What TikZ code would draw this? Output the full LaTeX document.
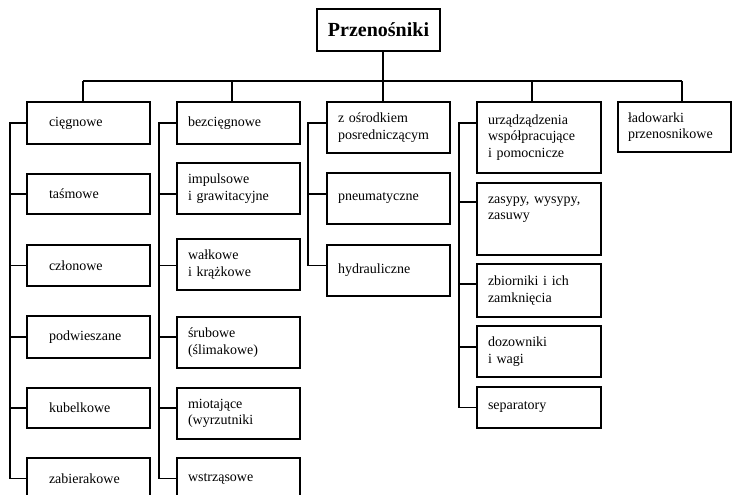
\documentclass[tikz,border=0pt]{standalone}
\usepackage{fontspec}
\setmainfont{Liberation Serif}
\begin{document}
\begin{tikzpicture}[x=1pt,y=-1pt,
  wire/.style={line width=1.2pt},
  box/.style={draw, line width=1.2pt, rectangle, inner ysep=0pt, align=left,
    font=\fontsize{14}{16.5}\selectfont},
  boxA/.style={box, minimum width=123pt, inner xsep=22pt, text width=79pt},
  boxB/.style={box, minimum width=123pt, inner xsep=11pt, text width=101pt},
  boxD/.style={box, minimum width=124pt, inner xsep=11pt, text width=102pt},
  boxE/.style={box, minimum width=113pt, inner xsep=10pt, text width=93pt},
  titlebox/.style={draw, line width=1.2pt, rectangle, minimum width=123pt, minimum height=42pt,
    inner sep=0pt, font=\fontsize{20}{22}\selectfont\bfseries}]
\clip (0,0) rectangle (734,495);

% title
\node[titlebox] (title) at (378.5,30) {Przenośniki};

% column 1
\node[boxA, minimum height=42pt] (c1a) at (88.5,123) {cięgnowe};
\node[boxA, minimum height=40pt] (c1b) at (88.5,194) {taśmowe};
\node[boxA, minimum height=41pt] (c1c) at (88.5,265.5) {członowe};
\node[boxA, minimum height=42pt] (c1d) at (88.5,337) {podwieszane};
\node[boxA, minimum height=40pt] (c1e) at (88.5,408) {kubelkowe};
\node[boxA, minimum height=41pt] (c1f) at (88.5,478.5) {zabierakowe};

% column 2
\node[boxB, minimum height=42pt] (c2a) at (238.5,123) {bezcięgnowe};
\node[boxB, minimum height=51pt] (c2b) at (238.5,188.5) {impulsowe\\i grawitacyjne};
\node[boxB, minimum height=51pt] (c2c) at (238.5,264.5) {wałkowe\\i krążkowe};
\node[boxB, minimum height=51pt] (c2d) at (238.5,342.5) {śrubowe\\(ślimakowe)};
\node[boxB, minimum height=51pt] (c2e) at (238.5,413.5) {miotające\\(wyrzutniki};
\node[boxB, minimum height=41pt] (c2f) at (238.5,478.5) {wstrząsowe};

% column 3
\node[boxB, minimum height=51pt] (c3a) at (388.5,127.5) {z ośrodkiem\\posredniczącym};
\node[boxB, minimum height=51pt] (c3b) at (388.5,198.5) {pneumatyczne};
\node[boxB, minimum height=51pt] (c3c) at (388.5,270.5) {hydrauliczne};

% column 4
\node[boxD, minimum height=71pt] (c4a) at (539,137.5) {urządządzenia\\współpracujące\\i pomocnicze};
\node[boxD, minimum height=72pt] (c4b) at (539,219) {zasypy, wysypy,\\zasuwy\\\strut};
\node[boxD, minimum height=53pt] (c4c) at (539,290.5) {zbiorniki i ich\\zamknięcia};
\node[boxD, minimum height=51pt] (c4d) at (539,351.5) {dozowniki\\i wagi};
\node[boxD, minimum height=41pt] (c4e) at (539,407.5) {separatory};

% column 5
\node[boxE, minimum height=50pt] (c5a) at (674.5,127) {ładowarki\\przenosnikowe};

% bus
\coordinate (busL) at (83,81);
\coordinate (busR) at (682,81);
\draw[wire] (busL) -- (busR);
\draw[wire] ([xshift=4.5pt]title.south) -- ([xshift=4.5pt]title.south |- busL);
\draw[wire] ([xshift=-5.5pt]c1a.north) -- ([xshift=-5.5pt]c1a.north |- busL);
\draw[wire] ([xshift=-6.5pt]c2a.north) -- ([xshift=-6.5pt]c2a.north |- busL);
\draw[wire] ([xshift=-5.5pt]c3a.north) -- ([xshift=-5.5pt]c3a.north |- busL);
\draw[wire] ([xshift=-7pt]c4a.north) -- ([xshift=-7pt]c4a.north |- busL);
\draw[wire] ([xshift=7.5pt]c5a.north) -- ([xshift=7.5pt]c5a.north |- busL);

% column 1 spine
\coordinate (s1) at (10,123);
\draw[wire] (c1a.west) -- (s1) |- (c1f.west);
\foreach \b in {c1b,c1c,c1d,c1e} \draw[wire] (\b.west) -- (\b.west -| s1);

% column 2 spine
\coordinate (s2) at (159,123);
\draw[wire] (c2a.west) -- (s2) |- (c2f.west);
\foreach \i in {b,c,d,e} \draw[wire] (c2\i.west |- c1\i.west) -- (s2 |- c1\i.west);

% column 3 spine
\coordinate (s3) at (308,123);
\draw[wire] (c3a.west |- c1a.west) -- (s3) |- (c3c.west |- c1c.west);
\draw[wire] (c3b.west |- c1b.west) -- (s3 |- c1b.west);

% column 4 spine
\coordinate (s4) at (459,123);
\draw[wire] ([yshift=14.5pt]c4a.west) -- (s4) |- (c4e.west);
\draw[wire] ([yshift=17pt]c4b.west) -- ([yshift=17pt]c4b.west -| s4);
\draw[wire] ([yshift=6.5pt]c4c.west) -- ([yshift=6.5pt]c4c.west -| s4);
\draw[wire] ([yshift=4.5pt]c4d.west) -- ([yshift=4.5pt]c4d.west -| s4);
\end{tikzpicture}
\end{document}
